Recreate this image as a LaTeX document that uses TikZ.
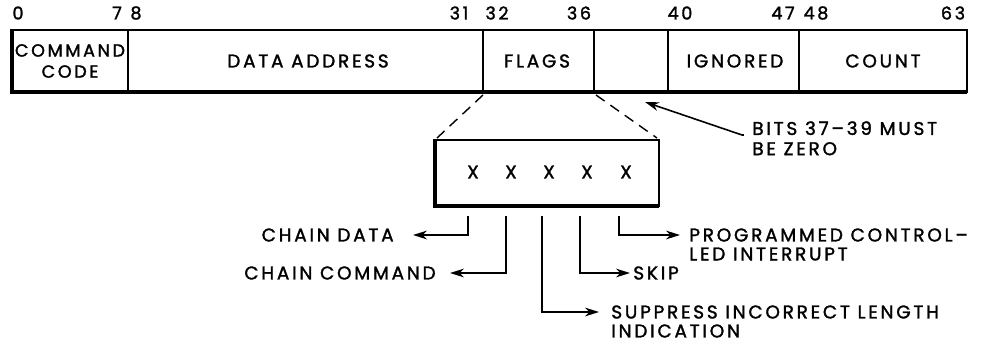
\documentclass[tikz,border=0pt]{standalone}
\usepackage{fontspec}
\setmainfont[LetterSpace=15, FakeBold=1.6]{Poppins}
\usepackage{tikz}
\usetikzlibrary{arrows.meta,positioning}

\tikzset{
  lbl/.style={font=\fontsize{10.5}{11.5}\selectfont, inner sep=0pt},
  bitno/.style={font=\fontsize{10}{11}\selectfont, inner sep=0pt},
  lead/.style={line width=0.9pt},
  leadarrow/.style={line width=0.9pt, -{Stealth[length=8pt, width=5pt, inset=2.5pt]}},
}

\begin{document}
\begin{tikzpicture}[x=0.02cm, y=-0.02cm]
  \useasboundingbox (0, 0) rectangle (992, 345);
  % command word
  \draw[line width=0.8pt] (12, 30) rectangle (967, 92);
  \draw[line width=1.8pt] (12, 29) -- (12, 92) -- (967, 92);
  \foreach \x in {128, 483, 594, 668, 799}
    \draw[line width=0.9pt] (\x, 30) -- (\x, 92);
  % bit numbers
  \node[bitno] (b0) at (18, 13) {0};
  \node[bitno] (b7) at (117, 13) {7};
  \node[bitno] (b8) at (136, 13) {8};
  \node[bitno] (b31) at (459, 13) {31};
  \node[bitno] (b32) at (497, 13) {32};
  \node[bitno] (b36) at (579, 13) {36};
  \node[bitno] (b40) at (680, 13) {40};
  \node[bitno] (b47) at (783, 13) {47};
  \node[bitno] (b48) at (816, 13) {48};
  \node[bitno] (b63) at (953, 13) {63};
  % fields
  \node[lbl, font=\fontsize{10}{12}\selectfont, align=center] (cmd) at (70, 61) {COMMAND\\CODE};
  \node[lbl] (addr) at (308, 61) {DATA ADDRESS};
  \node[lbl] (flags) at (537, 61) {FLAGS};
  \node[lbl] (ign) at (735, 61) {IGNORED};
  \node[lbl] (count) at (883, 61) {COUNT};
  % flag bits
  \draw[line width=0.8pt] (435, 140) rectangle (659, 206);
  \draw[line width=2.2pt] (435, 139) -- (435, 206) -- (659, 206);
  \draw[line width=0.8pt, dash pattern=on 6pt off 4pt] (483, 95) -- (437, 138);
  \draw[line width=0.8pt, dash pattern=on 6pt off 4pt] (596, 95) -- (657, 138);
  \foreach \n/\x in {1/473, 2/511, 3/549, 4/587, 5/626}
    \node[lbl] (x\n) at (\x, 172) {X};
  \foreach \n/\x in {1/468, 2/506, 3/542, 4/580, 5/619}
    \coordinate (t\n) at (\x, 216);
  % reserved bits
  \node[lbl, align=left, anchor=north west] (zero) at (752, 121) {BITS 37--39 MUST\\BE ZERO};
  \coordinate (bend) at (742, 135);
  \draw[lead] (zero.west |- bend) ++(-8, 0) -- (bend);
  \draw[leadarrow] (bend) -- (645, 102);
  % flag meanings
  \node[lbl, anchor=east] (cdata) at (394, 235) {CHAIN DATA};
  \node[lbl, anchor=east] (ccmd) at (436, 273) {CHAIN COMMAND};
  \node[lbl, anchor=west] (sil) at (611, 312) {SUPPRESS INCORRECT LENGTH};
  \node[lbl, anchor=west] (sil2) at (611, 331) {INDICATION};
  \node[lbl, anchor=west] (skip) at (633, 273) {SKIP};
  \node[lbl, anchor=west] (pci) at (689, 235) {PROGRAMMED CONTROL--};
  \node[lbl, anchor=west] (pci2) at (689, 254) {LED INTERRUPT};
  \draw[leadarrow] (t1) |- ([xshift=19*0.02cm]cdata.east);
  \draw[leadarrow] (t2) |- ([xshift=14*0.02cm]ccmd.east);
  \draw[leadarrow] (t3) |- ([xshift=-12*0.02cm]sil.west);
  \draw[leadarrow] (t4) |- ([xshift=-3*0.02cm]skip.west);
  \draw[leadarrow] (t5) |- ([xshift=-9*0.02cm]pci.west);
\end{tikzpicture}
\end{document}
